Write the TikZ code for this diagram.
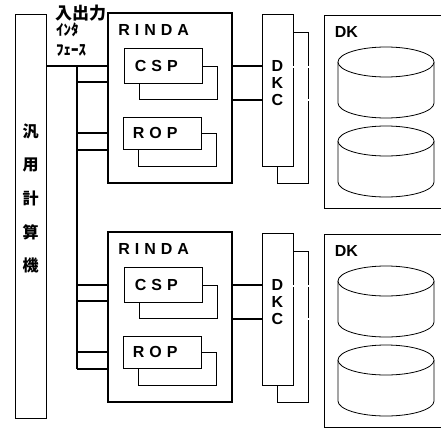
\documentclass[tikz,border=0pt]{standalone}
\usepackage{fontspec}
\setmainfont{Liberation Sans}
\newfontfamily\jp{Noto Sans CJK JP}
\usetikzlibrary{positioning}
\newcommand{\lgap}{\hspace{5pt}}

\begin{document}
\begin{tikzpicture}[
    x=1pt, y=-1pt,
    unit/.style={rectangle, draw, line width=0.8pt, fill=white, inner sep=0pt},
    frame/.style={unit, line width=1.8pt},
    tag/.style={font=\bfseries\fontsize{16}{17}\selectfont, inner sep=0pt},
    jtag/.style={font=\jp\bfseries\fontsize{#1}{#1}\selectfont, inner sep=0pt, anchor=west},
    bus/.style={line width=2.2pt},
    link/.style={double, double distance=1.3pt, line width=0.6pt},
    disk/.style={line width=0.8pt, fill=white}
]
\useasboundingbox (0,0) rectangle (441,439);
\clip (0,0) rectangle (441,439);

% Host computer
\node[unit, line width=0.6pt, minimum width=31pt, minimum height=404pt] (host) at (30.5,216) {};
\node[font=\jp\bfseries\fontsize{16}{33.7}\selectfont, align=center, inner sep=0pt] (hostname) at (host.center |- 0,198.5) {汎\\用\\計\\算\\機};

% Interface label
\node[jtag=17] (io) at (55,13) {入出力};
\node[jtag=15] (io2) at (56,30) {ｲﾝﾀ};
\node[jtag=15] (io3) at (56,50) {ﾌｪｰｽ};

% Bus
\coordinate (bustop) at (77,66);
\coordinate (busend) at (77,369);

\foreach \g/\dy in {1/0, 2/219} {
  % RINDA
  \node[frame, minimum width=124pt, minimum height=170pt] (rinda\g) at (170,98+\dy) {};
  \node[tag, below right=12pt and 11pt of rinda\g.north west] (rindalabel\g) {R\lgap I\lgap N\lgap D\lgap A};

  \node[unit, minimum width=78pt, minimum height=33pt] (cspb\g) at (178,82.5+\dy) {};
  \node[unit, minimum width=78pt, minimum height=35pt] (csp\g) at (163,65.5+\dy) {};
  \node[tag, anchor=west, right=11pt of csp\g.west] (csplabel\g) {C\lgap S\lgap P};

  \node[unit, minimum width=78pt, minimum height=33pt] (ropb\g) at (177.5,149.5+\dy) {};
  \node[unit, minimum width=78pt, minimum height=32pt] (rop\g) at (162,133+\dy) {};
  \node[tag, anchor=west, right=10pt of rop\g.west] (roplabel\g) {R\lgap O\lgap P};

  % DKC
  \node[unit, minimum width=31pt, minimum height=151pt] (dkcb\g) at (292.5,107.5+\dy) {};
  \node[unit, minimum width=31pt, minimum height=152pt] (dkc\g) at (277.5,90+\dy) {};
  \node[tag, align=center] (dkclabel\g) at (dkc\g.center |- 0,83+\dy) {D\\K\\C};

  % DK
  \node[unit, minimum width=146pt, minimum height=193pt] (dk\g) at (397,111.5+\dy) {};
  \node[tag, below right=12pt and 11pt of dk\g.north west] (dklabel\g) {DK};
  \foreach \cy in {62,141} {
    \draw[disk] (338,\cy+\dy) -- (338,\cy+\dy+41) arc[start angle=180, end angle=0, x radius=48, y radius=15] -- (434,\cy+\dy);
    \draw[disk] (386,\cy+\dy) ellipse [x radius=48, y radius=15];
  }

  % Links
  \foreach \y in {66,82,133,150}
    \draw[bus] (bustop |- 0,\y+\dy) -- (rinda\g.west |- 0,\y+\dy);
  \draw[bus] (rinda\g.east |- 0,66+\dy) -- (dkc\g.west |- 0,66+\dy);
  \draw[bus] (rinda\g.east |- 0,100+\dy) -- (dkc\g.west |- 0,100+\dy);
  \draw[link] (dkc\g.east |- 0,67+\dy) -- (dk\g.west |- 0,67+\dy);
  \draw[link] (dkcb\g.east |- 0,100+\dy) -- (dk\g.west |- 0,100+\dy);
}

\draw[bus] (host.east |- bustop) -- (rinda1.west |- bustop);
\draw[line width=1.2pt] (bustop) -- (busend);

\end{tikzpicture}
\end{document}
